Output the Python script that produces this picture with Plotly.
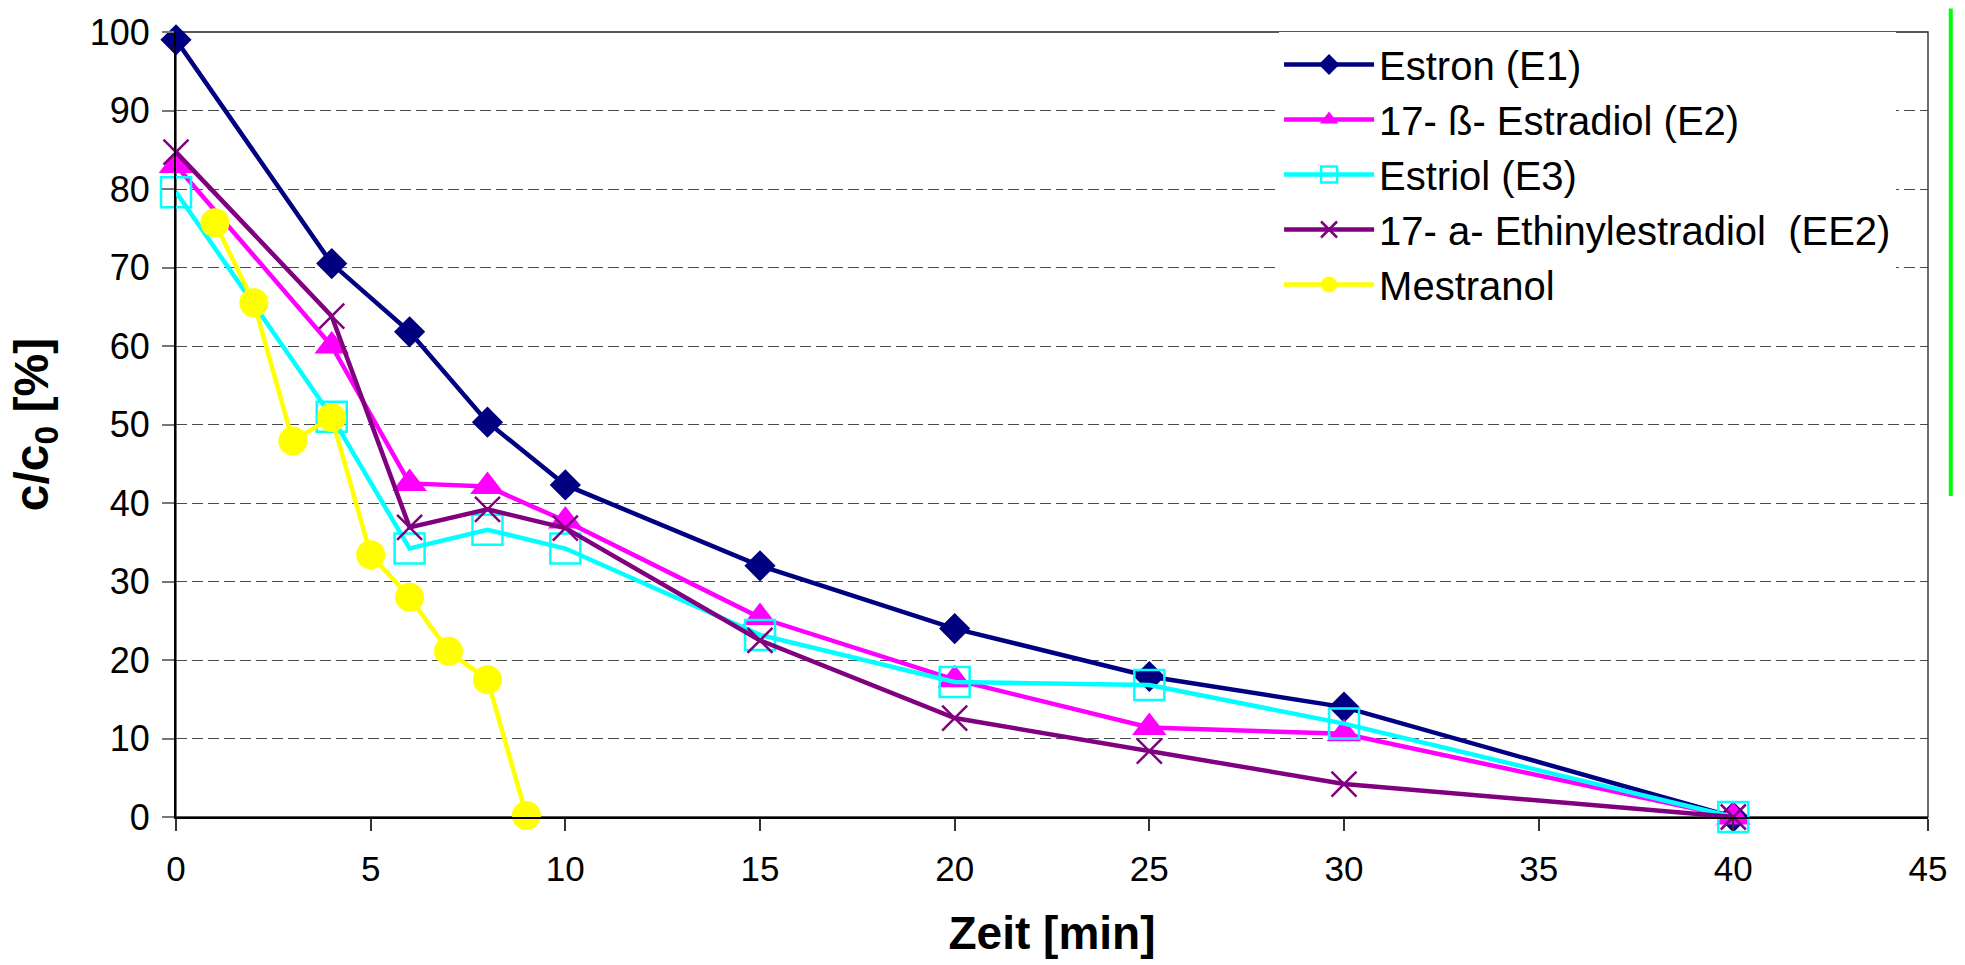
import plotly.graph_objects as go

# Sampling times [min]
zeit = [0, 4, 6, 8, 10, 15, 20, 25, 30, 40]
zeit_mestranol = [1, 2, 3, 4, 5, 6, 7, 8, 9]

# Remaining concentration c/c0 [%]
estron_e1 = [99.0, 70.5, 61.8, 50.3, 42.3, 32.0, 24.0, 17.9, 14.0, 0.0]
estradiol_e2 = [83.0, 60.0, 42.5, 42.1, 37.7, 25.4, 17.5, 11.4, 10.6, 0.0]
estriol_e3 = [79.6, 51.0, 34.2, 36.6, 34.2, 23.2, 17.2, 16.8, 11.9, 0.0]
ethinylestradiol_ee2 = [84.7, 63.8, 36.9, 39.2, 36.8, 22.5, 12.6, 8.4, 4.2, 0.0]
mestranol = [75.7, 65.5, 47.9, 50.9, 33.4, 28.0, 21.1, 17.5, 0.2]

names = [
    "Estron (E1)",
    "17- ß- Estradiol (E2)",
    "Estriol (E3)",
    "17- a- Ethinylestradiol  (EE2)",
    "Mestranol",
]

x_ticks = [0, 5, 10, 15, 20, 25, 30, 35, 40, 45]
y_ticks = [0, 10, 20, 30, 40, 50, 60, 70, 80, 90, 100]

FONT = "Liberation Sans, Arial, sans-serif"

fig = go.Figure()

series = [
    (zeit, estron_e1, names[0], "#000080",
     dict(symbol="diamond", size=24, color="#000080")),
    (zeit, estradiol_e2, names[1], "#FF00FF",
     dict(symbol="triangle-up", size=30, color="#FF00FF")),
    (zeit, estriol_e3, names[2], "#00FFFF",
     dict(symbol="square-open", size=30, color="#00FFFF",
          line=dict(width=2.5, color="#00FFFF"))),
    (zeit, ethinylestradiol_ee2, names[3], "#800080",
     dict(symbol="x-thin-open", size=25, color="#800080",
          line=dict(width=2.5, color="#800080"))),
    (zeit_mestranol, mestranol, names[4], "#FFFF00",
     dict(symbol="circle", size=29, color="#FFFF00")),
]

for xs, ys, name, col, marker in series:
    fig.add_trace(go.Scatter(
        x=xs, y=ys, name=name, mode="lines+markers",
        line=dict(color=col, width=4.5),
        marker=marker,
        cliponaxis=False,
    ))

# plot frame (top/right) and the green bar at the right edge
fig.add_shape(type="rect", xref="paper", yref="paper", x0=0, x1=1, y0=0, y1=1,
              line=dict(color="#222222", width=1.3), layer="below")
fig.add_shape(type="line", xref="paper", yref="paper", x0=1.013, x1=1.013,
              y0=0.409, y1=1.03, line=dict(color="#00FF00", width=4))

fig.update_layout(
    width=1965, height=965,
    margin=dict(l=176, r=37, t=22, b=148),
    paper_bgcolor="white", plot_bgcolor="white",
    font=dict(family=FONT, color="black"),
    showlegend=True,
    legend=dict(
        x=0.6296, y=1.0, xanchor="left", yanchor="top",
        bgcolor="white", borderwidth=0,
        font=dict(family=FONT, size=40, color="black"),
        itemwidth=90, tracegroupgap=0,
    ),
    xaxis=dict(
        range=[0, 45], tickvals=x_ticks, ticktext=[str(v) for v in x_ticks],
        showgrid=False, zeroline=False,
        showline=True, linecolor="black", linewidth=2,
        ticks="outside", ticklen=12, tickcolor="#333333", tickwidth=1.5,
        tickfont=dict(family=FONT, size=35, color="black"),
        ticklabelstandoff=8,
        title=dict(text="<b>Zeit [min]</b>", standoff=30,
                   font=dict(family=FONT, size=46, color="black")),
    ),
    yaxis=dict(
        range=[0, 100], tickvals=y_ticks, ticktext=[str(v) for v in y_ticks],
        showgrid=True, gridcolor="#4a4a4a", gridwidth=1.4, griddash="11px,5px",
        zeroline=False,
        showline=True, linecolor="black", linewidth=2,
        ticks="outside", ticklen=12, tickcolor="#777777", tickwidth=1.5,
        tickfont=dict(family=FONT, size=36, color="black"),
        ticklabelstandoff=5,
        title=dict(text="<b>c/c<sub>0</sub> [%]</b>", standoff=26,
                   font=dict(family=FONT, size=48, color="black")),
    ),
)

fig.write_html("out.html")
